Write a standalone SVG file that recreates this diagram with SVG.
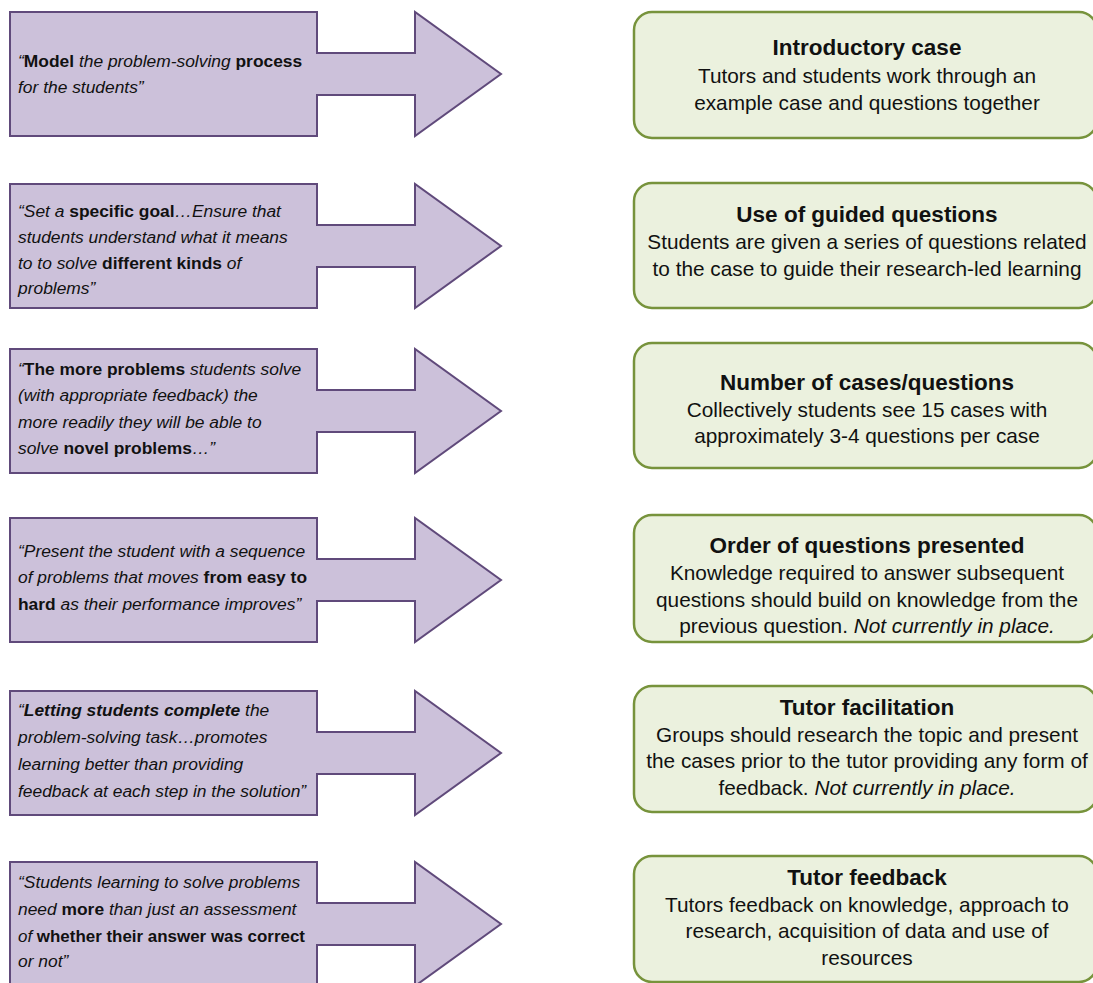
<svg xmlns="http://www.w3.org/2000/svg" width="1093" height="983" viewBox="0 0 1093 983">
<style>
.arrow{fill:#ccc1da;stroke:#604a7b;stroke-width:2;stroke-linejoin:miter}
.box{fill:#ebf1de;stroke:#77933c;stroke-width:2.5}
.q{font-family:"Liberation Sans",Arial,sans-serif;font-size:17.4px;font-style:italic;fill:#111}
.q .b{font-weight:bold;font-style:normal}
.q .bi{font-weight:bold}
.t{font-family:"Liberation Sans",Arial,sans-serif;font-size:22.5px;font-weight:bold;fill:#111;text-anchor:middle}
.d{font-family:"Liberation Sans",Arial,sans-serif;font-size:20.8px;fill:#111;text-anchor:middle}
.d .i{font-style:italic}
</style>
<rect width="1093" height="983" fill="#ffffff"/>
<g id="connectors"/>

<g id="arrow1">
<polygon class="arrow" points="10,12 317,12 317,53 415,53 415,12 501,74 415,136 415,95 317,95 317,136 10,136"/>
<text class="q" x="18" y="67">“<tspan class="b">Model</tspan> the problem-solving <tspan class="b">process</tspan></text>
<text class="q" x="18" y="93">for the students”</text>
</g>

<g id="arrow2">
<polygon class="arrow" points="10,184 317,184 317,225 415,225 415,184 501,246 415,308 415,267 317,267 317,308 10,308"/>
<text class="q" x="18" y="217">“Set a <tspan class="b">specific goal</tspan>…Ensure that</text>
<text class="q" x="18" y="243">students understand what it means</text>
<text class="q" x="18" y="269">to to solve <tspan class="b">different kinds</tspan> of</text>
<text class="q" x="18" y="294">problems”</text>
</g>

<g id="arrow3">
<polygon class="arrow" points="10,349 317,349 317,390 415,390 415,349 501,411 415,473 415,432 317,432 317,473 10,473"/>
<text class="q" x="18" y="375">“<tspan class="b">The more problems</tspan> students solve</text>
<text class="q" x="18" y="401">(with appropriate feedback) the</text>
<text class="q" x="18" y="428">more readily they will be able to</text>
<text class="q" x="18" y="454">solve <tspan class="b">novel problems</tspan>…”</text>
</g>

<g id="arrow4">
<polygon class="arrow" points="10,518 317,518 317,559 415,559 415,518 501,580 415,642 415,601 317,601 317,642 10,642"/>
<text class="q" x="18" y="557">“Present the student with a sequence</text>
<text class="q" x="18" y="583">of problems that moves <tspan class="b">from easy to</tspan></text>
<text class="q" x="18" y="610"><tspan class="b">hard</tspan> as their performance improves”</text>
</g>

<g id="arrow5">
<polygon class="arrow" points="10,691 317,691 317,732 415,732 415,691 501,753 415,815 415,774 317,774 317,815 10,815"/>
<text class="q" x="18" y="716">“<tspan class="bi">Letting students complete</tspan> the</text>
<text class="q" x="18" y="743">problem-solving task…promotes</text>
<text class="q" x="18" y="770">learning better than providing</text>
<text class="q" x="18" y="797">feedback at each step in the solution”</text>
</g>

<g id="arrow6">
<polygon class="arrow" points="10,862 317,862 317,903 415,903 415,862 501,924 415,986 415,945 317,945 317,986 10,986"/>
<text class="q" x="18" y="888">“Students learning to solve problems</text>
<text class="q" x="18" y="915">need <tspan class="b">more</tspan> than just an assessment</text>
<text class="q" x="18" y="942" textLength="287" lengthAdjust="spacingAndGlyphs">of <tspan class="b">whether their answer was correct</tspan></text>
<text class="q" x="18" y="967">or not”</text>
</g>

<g id="box1">
<rect class="box" x="634" y="12" width="463" height="126" rx="18"/>
<text class="t" x="867" y="55">Introductory case</text>
<text class="d" x="867" y="83">Tutors and students work through an</text>
<text class="d" x="867" y="110">example case and questions together</text>
</g>

<g id="box2">
<rect class="box" x="634" y="183" width="463" height="125" rx="18"/>
<text class="t" x="867" y="222">Use of guided questions</text>
<text class="d" x="867" y="249">Students are given a series of questions related</text>
<text class="d" x="867" y="276">to the case to guide their research-led learning</text>
</g>

<g id="box3">
<rect class="box" x="634" y="343" width="463" height="125" rx="18"/>
<text class="t" x="867" y="390">Number of cases/questions</text>
<text class="d" x="867" y="417">Collectively students see 15 cases with</text>
<text class="d" x="867" y="443">approximately 3-4 questions per case</text>
</g>

<g id="box4">
<rect class="box" x="634" y="515" width="463" height="127" rx="18"/>
<text class="t" x="867" y="553">Order of questions presented</text>
<text class="d" x="867" y="580">Knowledge required to answer subsequent</text>
<text class="d" x="867" y="607">questions should build on knowledge from the</text>
<text class="d" x="867" y="633">previous question. <tspan class="i">Not currently in place.</tspan></text>
</g>

<g id="box5">
<rect class="box" x="634" y="686" width="463" height="126" rx="18"/>
<text class="t" x="867" y="715">Tutor facilitation</text>
<text class="d" x="867" y="742">Groups should research the topic and present</text>
<text class="d" x="867" y="768">the cases prior to the tutor providing any form of</text>
<text class="d" x="867" y="795">feedback. <tspan class="i">Not currently in place.</tspan></text>
</g>

<g id="box6">
<rect class="box" x="634" y="856" width="463" height="126" rx="18"/>
<text class="t" x="867" y="885">Tutor feedback</text>
<text class="d" x="867" y="912">Tutors feedback on knowledge, approach to</text>
<text class="d" x="867" y="938">research, acquisition of data and use of</text>
<text class="d" x="867" y="965">resources</text>
</g>
</svg>
